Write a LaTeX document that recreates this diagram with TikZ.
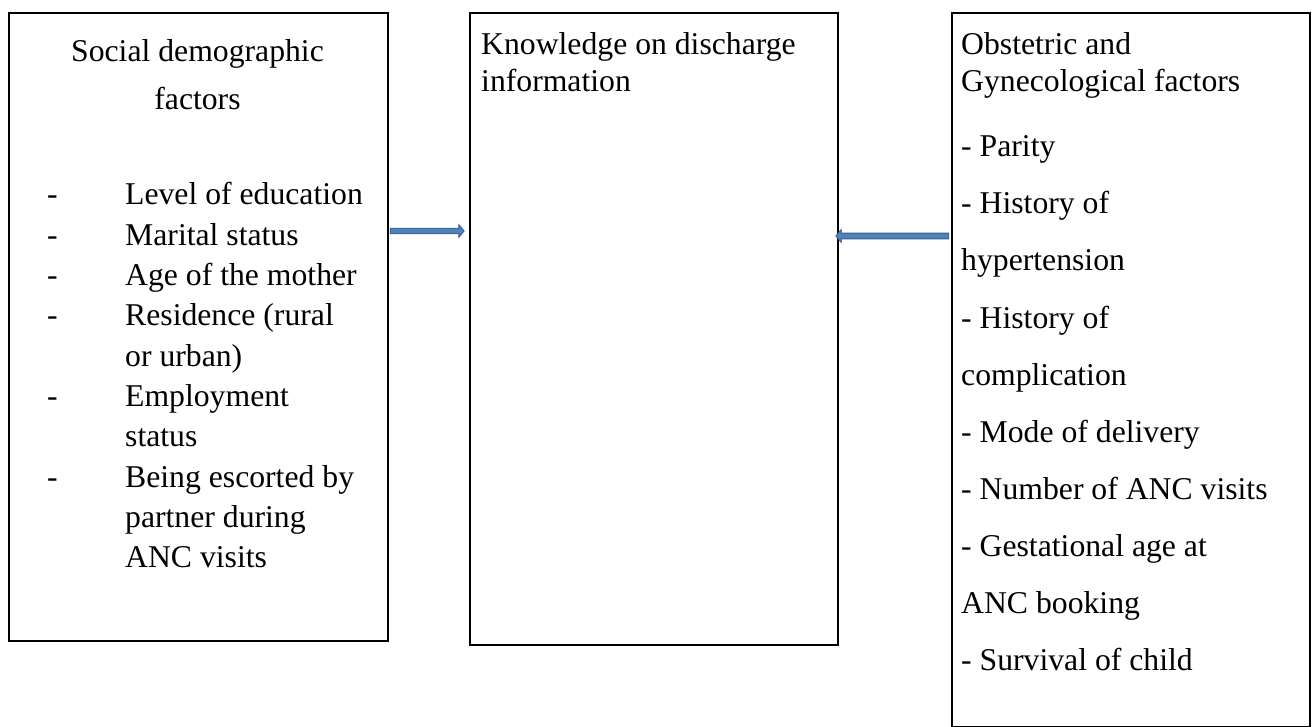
\documentclass[tikz,border=0pt]{standalone}
\usepackage{fontspec}
\setmainfont{Liberation Serif}
\usetikzlibrary{shapes.arrows}
\definecolor{arrfill}{HTML}{4F81BD}
\definecolor{arredge}{HTML}{385D8A}
\begin{document}
\begin{tikzpicture}[x=1pt,y=-1pt,
  box/.style={draw=black, line width=1.8pt, inner sep=0pt, anchor=north west},
  txt/.style={anchor=base west, inner sep=0pt, font=\fontsize{31.7}{38}\selectfont},
  ctxt/.style={anchor=base, inner sep=0pt, font=\fontsize{31.7}{38}\selectfont},
  barrow/.style={single arrow, fill=arrfill, draw=arredge, line width=0.8pt,
    inner sep=2.4pt, single arrow head extend=3.5pt, single arrow tip angle=100}]
\useasboundingbox (0,0) rectangle (1314,727);
% boxes
\node[box, minimum width=379pt, minimum height=628pt] (L) at (8,12) {};
\node[box, minimum width=368pt, minimum height=632pt] (M) at (469,12) {};
\node[box, minimum width=358pt, minimum height=714pt] (R) at (951,12) {};
% left title
\node[ctxt] (lt1) at (197.5,62) {Social demographic};
\node[ctxt] (lt2) at (197.5,110) {factors};
% left list
\foreach \i/\d/\t in {0/-/Level of education, 1/-/Marital status, 2/-/Age of the mother,
  3/-/Residence (rural, 4//or urban), 5/-/Employment, 6//status, 7/-/Being escorted by,
  8//partner during, 9//ANC visits}{
  \node[txt] (ld\i) at (47,205+40.3*\i) {\d};
  \node[txt] (li\i) at (125,205+40.3*\i) {\t};
}
% middle title
\node[txt] (mt1) at (481,55) {Knowledge on discharge};
\node[txt] (mt2) at (481,92) {information};
% right title
\node[txt] (rt1) at (961,55) {Obstetric and};
\node[txt] (rt2) at (961,92) {Gynecological factors};
% right list
\foreach \i/\t in {0/- Parity, 1/- History of, 2/hypertension, 3/- History of,
  4/complication, 5/- Mode of delivery, 6/- Number of ANC visits,
  7/- Gestational age at, 8/ANC booking, 9/- Survival of child}{
  \node[txt] (ri\i) at (961,157+57*\i) {\t};
}
% arrows
\node[barrow, minimum height=74pt, minimum width=12pt] (a1) at (426,231) {};
\node[barrow, minimum height=113pt, minimum width=13pt, shape border rotate=180] (a2) at (893.5,236) {};
\end{tikzpicture}
\end{document}
